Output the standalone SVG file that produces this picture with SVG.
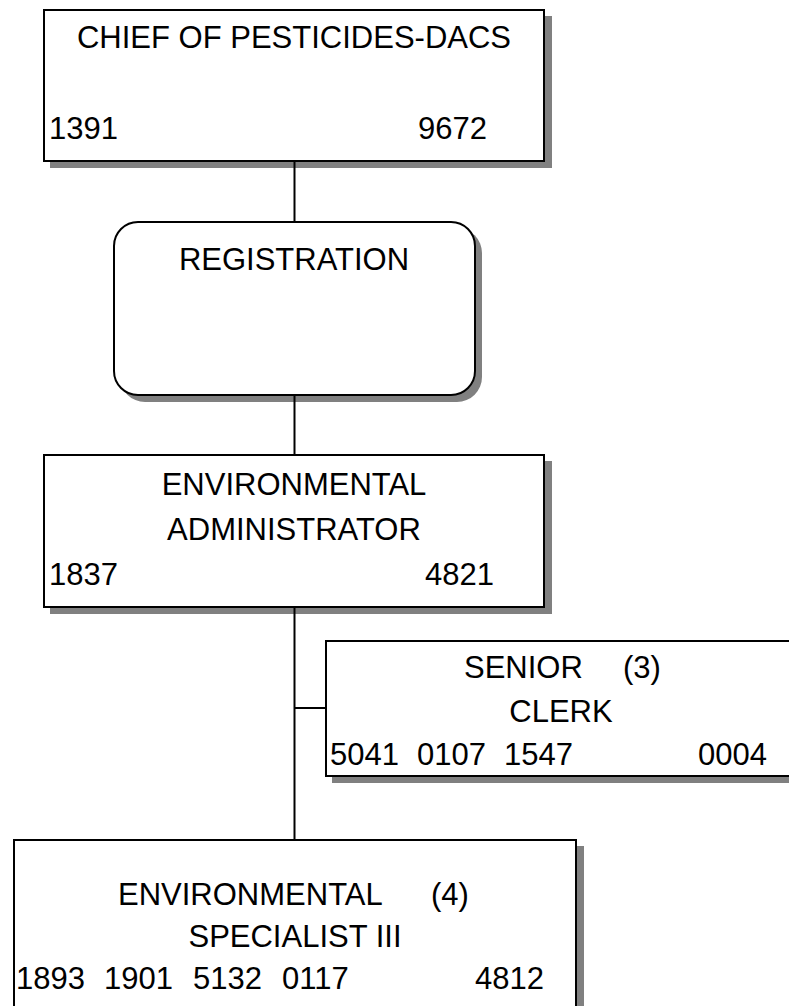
<svg xmlns="http://www.w3.org/2000/svg" width="789" height="1006" viewBox="0 0 789 1006">
  <style>
    .box { fill: #ffffff; stroke: #000000; stroke-width: 2; }
    .shadow { fill: #808080; stroke: none; }
    .wire { stroke: #000000; stroke-width: 2; fill: none; }
    text { font-family: "Liberation Sans", Arial, sans-serif; font-size: 31px; fill: #000000; }
    .mid { text-anchor: middle; }
  </style>
  <rect width="789" height="1006" fill="#ffffff"/>

  <!-- drop shadows -->
  <g id="shadows">
    <rect class="shadow" x="50" y="16" width="502" height="152"/>
    <rect class="shadow" x="120" y="228" width="362" height="174" rx="25" ry="25"/>
    <rect class="shadow" x="50" y="461" width="502" height="153"/>
    <rect class="shadow" x="332" y="647" width="476" height="136"/>
    <rect class="shadow" x="20" y="846" width="564" height="200"/>
  </g>

  <!-- reporting lines -->
  <g id="connectors">
    <line class="wire" x1="294.5" y1="161" x2="294.5" y2="222"/>
    <line class="wire" x1="294.5" y1="395" x2="294.5" y2="455"/>
    <line class="wire" x1="294.5" y1="607" x2="294.5" y2="840"/>
    <line class="wire" x1="294.5" y1="708" x2="326" y2="708"/>
  </g>

  <g id="chief">
    <rect class="box" x="44" y="10" width="500" height="151"/>
    <text class="mid" x="294" y="48">CHIEF OF PESTICIDES-DACS</text>
    <text x="49" y="139">1391</text>
    <text x="418" y="139">9672</text>
  </g>

  <g id="registration">
    <rect class="box" x="114" y="222" width="361" height="173" rx="24" ry="24"/>
    <text class="mid" x="294" y="270">REGISTRATION</text>
  </g>

  <g id="env-admin">
    <rect class="box" x="44" y="455" width="500" height="152"/>
    <text class="mid" x="294" y="495">ENVIRONMENTAL</text>
    <text class="mid" x="294" y="540">ADMINISTRATOR</text>
    <text x="49" y="585">1837</text>
    <text x="425" y="585">4821</text>
  </g>

  <g id="senior-clerk">
    <rect class="box" x="326" y="641" width="476" height="135"/>
    <text x="464" y="678">SENIOR</text>
    <text x="623" y="678">(3)</text>
    <text class="mid" x="561" y="722">CLERK</text>
    <text x="330" y="765">5041</text>
    <text x="417" y="765">0107</text>
    <text x="504" y="765">1547</text>
    <text x="698" y="765">0004</text>
  </g>

  <g id="env-specialist">
    <rect class="box" x="14" y="840" width="562" height="200"/>
    <text x="118" y="905">ENVIRONMENTAL</text>
    <text x="431" y="905">(4)</text>
    <text class="mid" x="295" y="947">SPECIALIST III</text>
    <text x="16" y="989">1893</text>
    <text x="104" y="989">1901</text>
    <text x="193" y="989">5132</text>
    <text x="282" y="989">0117</text>
    <text x="475" y="989">4812</text>
  </g>
</svg>
